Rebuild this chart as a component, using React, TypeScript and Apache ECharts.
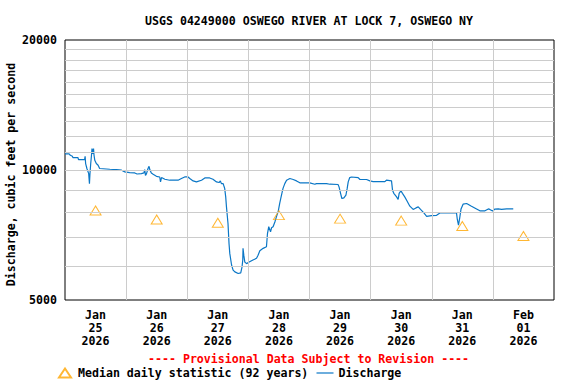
import React, { useEffect, useRef } from 'react';
import * as echarts from 'echarts';

const titleText = 'USGS 04249000 OSWEGO RIVER AT LOCK 7, OSWEGO NY';
const provisionalText = '---- Provisional Data Subject to Revision ----';
const yAxisTitle = 'Discharge, cubic feet per second';
const medianName = 'Median daily statistic (92 years)';
const dischargeName = 'Discharge';

const dayLabels = [
  'Jan\n25\n2026', 'Jan\n26\n2026', 'Jan\n27\n2026', 'Jan\n28\n2026',
  'Jan\n29\n2026', 'Jan\n30\n2026', 'Jan\n31\n2026', 'Feb\n01\n2026',
];
const xGridHours = [24, 48, 72, 96, 120, 144, 168];
const yGridCfs = [6000, 7000, 8000, 9000, 10000, 11000, 12000, 13000, 14000, 15000, 16000, 17000, 18000, 19000];

const dischargeHours = [
  0, 1.6, 2.1, 2.9, 3.1, 5.1, 5.3, 7.7, 7.9, 8.1, 8.6, 9.3, 9.6, 9.8, 10.1, 10.4, 10.6, 10.9, 11.2, 11.4,
  11.7, 12.3, 13.0, 13.6, 17.6, 20.2, 22.2, 23.5, 25.4, 27.4, 28.3, 30.0, 31.0, 31.3, 31.6, 32.0, 32.6, 33.0, 33.3, 33.9,
  34.6, 35.9, 37.2, 37.5, 37.9, 39.2, 41.1, 44.4, 45.7, 47.0, 48.3, 49.0, 50.3, 51.6, 53.6, 54.9, 56.8, 58.1, 59.5, 60.5,
  61.0, 61.4, 62.1, 62.3, 62.7, 63.1, 63.4, 64.0, 64.4, 64.7, 65.4, 66.0, 66.7, 68.0, 69.0, 69.5, 69.8, 69.9, 70.2, 70.6,
  71.3, 72.3, 73.8, 75.2, 75.8, 76.5, 77.8, 79.1, 79.5, 80.0, 80.7, 81.1, 81.7, 82.4, 83.0, 83.7, 84.3, 85.0, 85.6, 86.3,
  87.0, 88.3, 89.6, 90.9, 92.2, 96.1, 98.1, 98.7, 102.7, 104.0, 107.2, 107.6, 108.2, 108.7, 109.5, 110.3, 110.8, 111.2, 111.8, 112.5,
  115.1, 115.8, 118.4, 119.7, 121.0, 125.6, 126.2, 128.2, 128.6, 129.1, 130.2, 130.8, 131.2, 131.9, 132.5, 133.4, 134.3, 135.4, 136.7, 137.8,
  138.7, 139.6, 140.9, 142.0, 143.9, 145.9, 147.2, 153.7, 154.0, 154.5, 155.0, 155.5, 156.3, 157.7, 159.6, 161.6, 162.9, 164.9, 166.2, 166.8,
  167.9, 168.8, 170.1, 171.4, 173.4, 176.0,
];
const dischargeCfs = [
  10900, 10900, 10820, 10760, 10680, 10680, 10570, 10570, 10760, 10350, 10080, 9810, 9300, 9810, 10350, 10820, 11210, 10900, 11210, 10820,
  10530, 10350, 10260, 10080, 10040, 10020, 9990, 9900, 9865, 9845, 9790, 9810, 9845, 10020, 9720, 9810, 10080, 10200, 10020, 9845,
  9775, 9670, 9635, 9385, 9605, 9520, 9470, 9470, 9555, 9635, 9635, 9555, 9435, 9385, 9470, 9585, 9585, 9520, 9385, 9355,
  9435, 9300, 9300, 9220, 9065, 8665, 8215, 7520, 6760, 6410, 6025, 5865, 5810, 5760, 5780, 5960, 6190, 6585, 6350, 6120,
  6070, 6120, 6190, 6245, 6350, 6500, 6585, 6640, 7125, 7390, 7190, 7350, 7390, 7580, 7790, 8010, 8365, 8745, 9065, 9300,
  9470, 9555, 9505, 9435, 9340, 9340, 9270, 9300, 9300, 9270, 9255, 9140, 8830, 8590, 8620, 8745, 9065, 9385, 9605, 9635,
  9605, 9505, 9505, 9435, 9400, 9400, 9470, 9435, 8980, 8830, 8665, 8545, 8830, 8950, 8830, 8665, 8480, 8245, 8105, 8170,
  8215, 8105, 7955, 7810, 7840, 7855, 7955, 7970, 7710, 7450, 7760, 8125, 8335, 8365, 8245, 8125, 8045, 8045, 8125, 8105,
  8040, 8120, 8125, 8110, 8125, 8125,
];

const medianHours = [12, 36, 60, 84, 108, 132, 156, 180];
const medianCfs = [8060, 7680, 7550, 7860, 7715, 7635, 7420, 7035];

const FONT = 'DejaVu Sans Mono';
const txt = { fontFamily: FONT, fontWeight: 'bold' as const, fontSize: 11.6, color: '#000' };
const LINE_BLUE = '#0b77c6';

export default function App() {
  const ref = useRef<HTMLDivElement>(null);
  useEffect(() => {
    if (!ref.current) return;
    const chart = echarts.init(ref.current, undefined, { renderer: 'svg' });
    const option: any = {
      animation: false,
      backgroundColor: '#ffffff',
      title: [
        { text: titleText, left: 145, top: 14, padding: 0, textStyle: { ...txt, lineHeight: 14 } },
        { text: provisionalText, left: 148, top: 352, padding: 0, textStyle: { ...txt, color: '#ff0000', lineHeight: 14 } },
      ],
      legend: [
        {
          data: [{ name: medianName, icon: 'triangle' }], left: 58, top: 366, padding: 0,
          itemWidth: 12, itemHeight: 9, itemGap: 0, selectedMode: false, textStyle: { ...txt, lineHeight: 14, padding: [0, 0, 0, 2] },
        },
        {
          data: [{ name: dischargeName, icon: 'rect' }], left: 316.5, top: 366, padding: 0,
          itemWidth: 17, itemHeight: 1.2, itemGap: 0, selectedMode: false, textStyle: { ...txt, lineHeight: 14 },
          itemStyle: { color: LINE_BLUE },
        },
      ],
      grid: {
        left: 65, top: 40, width: 489, height: 260, show: true, borderColor: '#000', borderWidth: 1,
        backgroundColor: 'transparent', containLabel: false, outerBoundsMode: 'none',
      },
      xAxis: [
        {
          type: 'value', position: 'bottom', min: 0, max: 192, interval: 24,
          axisLabel: { show: false }, axisTick: { show: false }, axisLine: { show: false }, splitLine: { show: false },
        },
        {
          type: 'category', position: 'bottom', data: dayLabels, boundaryGap: true,
          axisLine: { show: false }, axisTick: { show: false }, splitLine: { show: false },
          axisLabel: { ...txt, margin: 8, lineHeight: 13, interval: 0 },
        },
      ],
      yAxis: {
        type: 'log', logBase: 10, min: 5000, max: 20000, interval: 0.30103,
        name: yAxisTitle, nameLocation: 'middle', nameGap: 47, nameRotate: 90, nameMoveOverlap: false,
        nameTextStyle: { ...txt, lineHeight: 14, padding: [0, 9, 0, 0] },
        axisLine: { show: false }, axisTick: { show: false }, splitLine: { show: false },
        axisLabel: { ...txt, margin: 8, formatter: (v: number) => String(Math.round(v)) },
      },
      series: [
        {
          name: 'gridlines', type: 'line', data: [], z: 1, silent: true,
          markLine: {
            silent: true, symbol: ['none', 'none'], label: { show: false }, animation: false,
            lineStyle: { color: '#cccccc', width: 1, type: 'solid' },
            emphasis: { disabled: true },
            data: [...yGridCfs.map((v) => ({ yAxis: v })), ...xGridHours.map((h) => ({ xAxis: h }))],
          },
        },
        {
          name: medianName, type: 'scatter', z: 3,
          data: medianHours.map((h, i) => [h, medianCfs[i]]),
          symbol: 'triangle', symbolSize: [11, 9],
          itemStyle: { color: 'rgba(0,0,0,0)', borderColor: '#ffa500', borderWidth: 1 },
        },
        {
          name: dischargeName, type: 'line', z: 2,
          data: dischargeHours.map((h, i) => [h, dischargeCfs[i]]),
          symbol: 'none', showSymbol: false,
          lineStyle: { color: LINE_BLUE, width: 1.2 }, itemStyle: { color: LINE_BLUE },
        },
      ],
    };
    chart.setOption(option);
    return () => chart.dispose();
  }, []);
  return <div ref={ref} style={{ position: 'absolute', left: 0, top: 0, width: 576, height: 384 }} />;
}
